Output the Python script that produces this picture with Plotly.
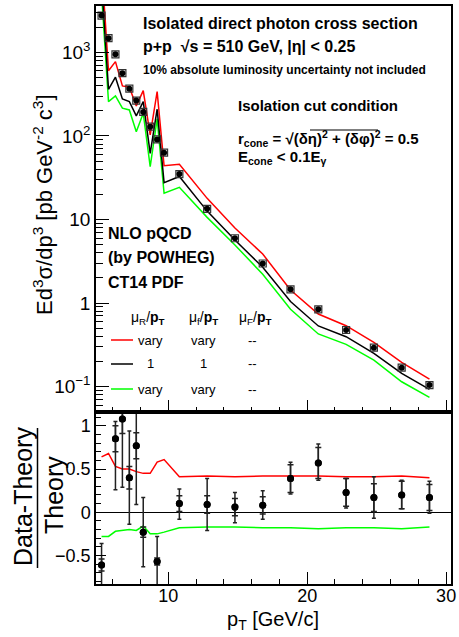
import plotly.graph_objects as go

# ---------------- data ----------------
pt = [5.2, 5.7, 6.2, 6.7, 7.2, 7.7, 8.2, 8.7, 9.2, 9.7, 10.8, 12.8, 14.8, 16.8,
      18.8, 20.8, 22.8, 24.8, 26.8, 28.8]
data_xsec = [2760, 1480, 950, 564, 368, 265, 194, 129, 91, 63, 35, 13.4, 5.96, 2.97,
             1.46, 0.84, 0.475, 0.292, 0.168, 0.104]
theory_central = [7000, 362, 505, 277, 258, 174, 258, 62, 209, 27.6, 32.7, 12.6, 5.67,
                  2.68, 1.04, 0.531, 0.395, 0.25, 0.144, 0.0927]
theory_up = [11500, 605, 776, 397, 383, 229, 349, 103, 340, 44, 45.8, 17.9, 7.9, 3.86,
             1.43, 0.738, 0.535, 0.338, 0.195, 0.123]
theory_down = [5000, 258, 301, 215, 205, 112, 187, 42.9, 160, 20.6, 24.3, 10.6, 4.95,
               2.21, 0.84, 0.426, 0.32, 0.207, 0.114, 0.0743]
ratio_up = [0.64, 0.68, 0.53, 0.50, 0.50, 0.47, 0.45, 0.45, 0.58, 0.61, 0.41, 0.42,
            0.41, 0.42, 0.42, 0.42, 0.41, 0.41, 0.42, 0.40]
ratio_down = [-0.28, -0.28, -0.22, -0.21, -0.20, -0.21, -0.16, -0.25, -0.25, -0.23,
              -0.18, -0.17, -0.17, -0.18, -0.18, -0.19, -0.18, -0.18, -0.19, -0.17]

ratio_pt = [5.2, 6.2, 6.7, 7.2, 7.7, 8.2, 9.2, 10.8, 12.8, 14.8, 16.8, 18.8, 20.8,
            22.8, 24.8, 26.8, 28.8]
ratio_val = [-0.61, 0.85, 1.08, 0.40, 0.77, -0.23, -0.57, 0.10, 0.09, 0.06, 0.08,
             0.39, 0.57, 0.23, 0.17, 0.20, 0.17]
ratio_err_hi = [0.25, 0.20, 0.30, 0.54, 0.45, 0.40, 0.29, 0.17, 0.30, 0.17, 0.17,
                0.19, 0.22, 0.16, 0.24, 0.17, 0.19]
ratio_err_lo = [0.40, 0.59, 0.79, 0.54, 0.68, 0.40, 0.40, 0.18, 0.30, 0.18, 0.16,
                0.18, 0.20, 0.18, 0.24, 0.16, 0.18]
ratio_sys = [0.07, 0.15, 0.17, 0.13, 0.15, 0.06, 0.04, 0.09, 0.10, 0.10, 0.10, 0.16,
             0.18, 0.16, 0.16, 0.16, 0.15]

y_top_tickvals = [0.1, 1, 10, 100, 1000]
y_top_ticktext = ["10<sup>\u22121</sup>", "1", "10", "10<sup>2</sup>", "10<sup>3</sup>"]
y_bot_tickvals = [-0.5, 0, 0.5, 1]
y_bot_ticktext = ["\u22120.5", "0", "0.5", "1"]
x_tickvals = [10, 20, 30]

# ---------------- layout helpers ----------------
W, H = 459, 637
L, R, T, B = 96, 8, 6, 53
PW, PH = W - L - R, H - T - B
SPLIT = 412


def px(x):
    return (x - L) / PW


def py(y):
    return (H - B - y) / PH


FONT = "Liberation Sans, Arial, Helvetica, sans-serif"
RED, BLACK, GREEN = "#ff0000", "#000000", "#00ff00"

fig = go.Figure()

# ---- top panel ----
for yv, col in [(theory_up, RED), (theory_down, GREEN), (theory_central, BLACK)]:
    fig.add_trace(go.Scatter(x=pt, y=yv, mode="lines", line=dict(color=col, width=1.5),
                             xaxis="x2", yaxis="y2", showlegend=False, hoverinfo="skip"))
fig.add_trace(go.Scatter(x=pt, y=data_xsec, mode="markers",
                         marker=dict(symbol="square-open", size=7, color="#333",
                                     line=dict(width=1.2, color="#333")),
                         xaxis="x2", yaxis="y2", showlegend=False))
fig.add_trace(go.Scatter(x=pt, y=data_xsec, mode="markers",
                         marker=dict(symbol="circle", size=6, color="black"),
                         xaxis="x2", yaxis="y2", showlegend=False))

# ---- bottom panel ----
fig.add_trace(go.Scatter(x=pt, y=ratio_up, mode="lines", line=dict(color=RED, width=1.5),
                         showlegend=False, hoverinfo="skip"))
fig.add_trace(go.Scatter(x=pt, y=ratio_down, mode="lines", line=dict(color=GREEN, width=1.5),
                         showlegend=False, hoverinfo="skip"))
fig.add_trace(go.Scatter(x=ratio_pt, y=ratio_val, mode="markers",
                         marker=dict(symbol="circle", size=7, color="black"),
                         error_y=dict(type="data", symmetric=False, array=ratio_err_hi,
                                      arrayminus=ratio_err_lo, color="#222", thickness=1.5,
                                      width=2),
                         showlegend=False))
fig.add_trace(go.Scatter(x=ratio_pt, y=ratio_val, mode="markers",
                         marker=dict(symbol="circle", size=7, color="black"),
                         error_y=dict(type="data", array=ratio_sys, color="#222",
                                      thickness=1.5, width=3),
                         showlegend=False))

minor_log = [m * 10 ** e for e in range(-2, 4) for m in range(2, 10)]

axis_common = dict(showline=True, linecolor="black", linewidth=1.5, mirror=True,
                   ticks="inside", tickcolor="black", tickwidth=1, showgrid=False,
                   automargin=False,
                   tickfont=dict(family=FONT, size=18, color="black"))

fig.update_layout(
    width=W, height=H,
    margin=dict(l=L, r=R, t=T, b=B, autoexpand=False),
    paper_bgcolor="white", plot_bgcolor="white",
    font=dict(family=FONT, color="black"),
    xaxis=dict(**axis_common, domain=[0, 1], range=[4.8, 30.35], anchor="y",
               tickvals=x_tickvals, ticklen=12, ticklabelstandoff=-5,
               minor=dict(dtick=2, tick0=0, ticklen=5, ticks="inside", tickcolor="black")),
    yaxis=dict(**axis_common, domain=[0, py(SPLIT)], range=[-0.83, 1.16], anchor="x",
               tickvals=y_bot_tickvals, ticktext=y_bot_ticktext, ticklen=10,
               zeroline=True, zerolinecolor="black", zerolinewidth=1.2,
               minor=dict(dtick=0.1, tick0=0, ticklen=5, ticks="inside", tickcolor="black")),
    xaxis2=dict(**axis_common, domain=[0, 1], range=[4.8, 30.35], anchor="y2",
                matches="x", tickvals=x_tickvals, ticklen=12, showticklabels=False,
                minor=dict(dtick=2, tick0=0, ticklen=5, ticks="inside", tickcolor="black")),
    yaxis2=dict(**axis_common, type="log", domain=[py(SPLIT), 1],
                range=[-1.305, 3.556], anchor="x2",
                tickvals=y_top_tickvals, ticktext=y_top_ticktext, ticklen=13,
                minor=dict(tickvals=minor_log, ticklen=7, ticks="inside", tickcolor="black")),
)
fig.update_layout(yaxis2_tickfont_size=19)

ann = []


def text(x, y, s, size, xanchor="left", bold=False, angle=0):
    ann.append(dict(x=px(x), y=py(y), xref="paper", yref="paper", text=(f"<b>{s}</b>" if bold else s),
                    showarrow=False, xanchor=xanchor, yanchor="middle", textangle=angle,
                    font=dict(family=FONT, size=size, color="black")))


text(141, 23, "Isolated direct photon cross section", 16, bold=True)
text(141, 47, "p+p  \u221As = 510 GeV, |\u03b7| < 0.25", 16, bold=True)
text(141, 70, "10% absolute luminosity uncertainty not included", 12, bold=True)
text(236, 106, "Isolation cut condition", 15, bold=True)
text(236, 139, "r<sub>cone</sub> = \u221A(\u03b4\u03b7)<sup>2</sup> + (\u03b4\u03c6)<sup>2</sup> = 0.5", 15, bold=True)
text(236, 157, "E<sub>cone</sub> < 0.1E<sub>\u03b3</sub>", 15, bold=True)
text(106, 233, "NLO pQCD", 16, bold=True)
text(106, 257, "(by POWHEG)", 16, bold=True)
text(106, 282, "CT14 PDF", 16, bold=True)
text(148, 318, "\u03bc<sub>R</sub>/<b>p<sub>T</sub></b>", 14, xanchor="center")
text(203, 318, "\u03bc<sub>f</sub>/<b>p<sub>T</sub></b>", 14, xanchor="center")
text(255, 318, "\u03bc<sub>F</sub>/<b>p<sub>T</sub></b>", 14, xanchor="center")
for yy, a, b, c in [(340, "vary", "vary", "--"), (364, "1", "1", "--"), (389, "vary", "vary", "--")]:
    text(150, yy, a, 13, xanchor="center")
    text(203, yy, b, 13, xanchor="center")
    text(252, yy, c, 13, xanchor="center")

# axis titles
text(43, 205, "Ed<sup>3</sup>\u03c3/dp<sup>3</sup> [pb GeV<sup>-2</sup> c<sup>3</sup>]", 22,
     xanchor="center", angle=-90)
text(23, 497, "Data-Theory", 25, xanchor="center", angle=-90)
text(54, 495, "Theory", 25, xanchor="center", angle=-90)
text(273, 620, "p<sub>T</sub> [GeV/c]", 20, xanchor="center")

fig.update_layout(annotations=ann)

shapes = []
# fraction bar of the ratio title
shapes.append(dict(type="line", xref="paper", yref="paper", x0=px(37.5), x1=px(37.5),
                   y0=py(428), y1=py(568), line=dict(color="black", width=1.5)))
# sqrt overline
shapes.append(dict(type="line", xref="paper", yref="paper", x0=px(310), x1=px(378),
                   y0=py(130), y1=py(130), line=dict(color="black", width=1.2)))
# legend line samples
for yy, col in [(340, RED), (364, BLACK), (389, GREEN)]:
    shapes.append(dict(type="line", xref="paper", yref="paper", x0=px(111), x1=px(133),
                       y0=py(yy), y1=py(yy), line=dict(color=col, width=1.5)))
fig.update_layout(shapes=shapes)

fig.write_html("out.html", config={"displayModeBar": False},
               post_script="document.body.style.margin='0';document.body.style.overflow='hidden';")
